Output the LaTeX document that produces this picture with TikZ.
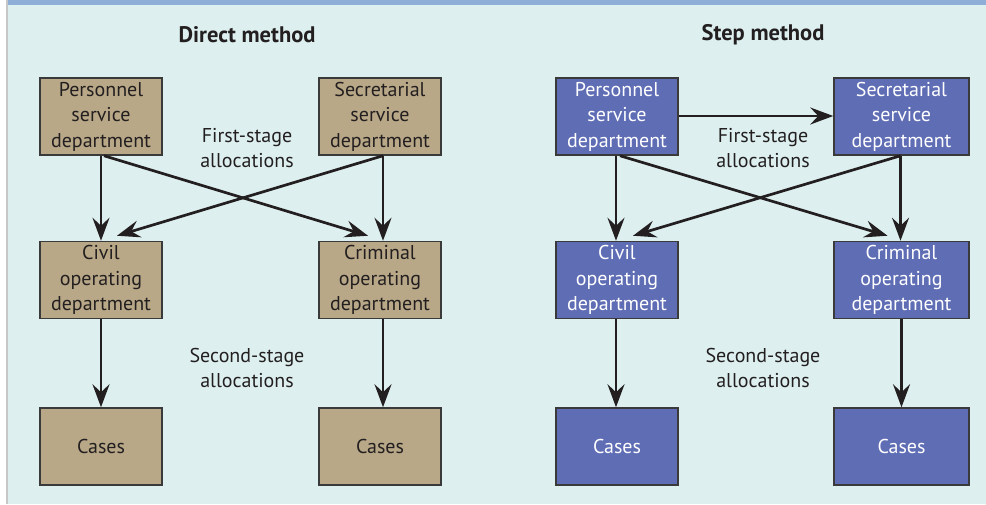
\documentclass[tikz,border=0pt]{standalone}
\usepackage{fontspec}
\setmainfont{PT Sans}
\usetikzlibrary{arrows.meta}

\definecolor{bgcyan}{HTML}{DDF0EF}
\definecolor{topbar}{HTML}{8EAED8}
\definecolor{tanbox}{HTML}{B8A887}
\definecolor{bluebox}{HTML}{5F6DB5}
\definecolor{inkdark}{HTML}{231F20}
\definecolor{edgegray}{HTML}{3A3A3A}

\begin{document}
\begin{tikzpicture}[x=1pt,y=-1pt,font=\fontsize{20}{25.5}\selectfont]
\useasboundingbox (0,0) rectangle (986,504);

%the panel behind everything
\fill[white] (0,0) rectangle (986,504);
\fill[bgcyan] (7,0) rectangle (986,504);
\fill[topbar] (7,0) rectangle (986,5);
\fill[black!22] (5.5,0) rectangle (7.5,504);

%headings and stage labels
\begin{scope}[every node/.style={text=inkdark,align=center}]
    \node[font=\fontsize{22.5}{27}\selectfont\bfseries] (dTitle) at (247,35) {Direct method};
    \node[font=\fontsize{22.5}{27}\selectfont\bfseries] (sTitle) at (763,35) {Step method};
    \node (dFirst) at (247,148) {First-stage\\allocations};
    \node (sFirst) at (763,148) {First-stage\\allocations};
    \node (dSecond) at (247,368) {Second-stage\\allocations};
    \node (sSecond) at (763,368) {Second-stage\\allocations};
\end{scope}

%direct method boxes (tan)
\begin{scope}[every node/.style={rectangle,draw=edgegray,line width=1.5pt,fill=tanbox,
              text=inkdark,align=center,inner sep=0pt,minimum width=122pt,minimum height=77pt}]
    \node (dP) at (101,116.5) {Personnel\\service\\department};
    \node (dS) at (380,116.5) {Secretarial\\service\\department};
    \node (dC) at (101,280) {Civil\\operating\\department};
    \node (dK) at (380,280) {Criminal\\operating\\department};
    \node (dCc) at (101,446.5) {Cases};
    \node (dKc) at (380,446.5) {Cases};
\end{scope}

%step method boxes (blue), the right column is a bit wider
\begin{scope}[every node/.style={rectangle,draw=edgegray,line width=1.5pt,fill=bluebox,
              text=white,align=center,inner sep=0pt,minimum width=122pt,minimum height=77pt}]
    \node (sP) at (617,116.5) {Personnel\\service\\department};
    \node[minimum width=135pt] (sS) at (901.5,116.5) {Secretarial\\service\\department};
    \node (sC) at (617,280) {Civil\\operating\\department};
    \node[minimum width=135pt] (sK) at (901.5,280) {Criminal\\operating\\department};
    \node (sCc) at (617,446.5) {Cases};
    \node[minimum width=135pt] (sKc) at (901.5,446.5) {Cases};
\end{scope}

%all the arrows
\begin{scope}[>={Stealth[length=23pt,width=17pt,inset=8pt]},
              every edge/.style={draw=inkdark,line width=2.7pt}]
    %direct method
    \path [->] (dP.south) edge (dC.north);
    \path [->] ([xshift=3pt]dP.south) edge ([xshift=-12pt,yshift=5pt]dK.north);
    \path [->] ([xshift=3pt]dS.south) edge ([xshift=16pt,yshift=5pt]dC.north);
    \path [->] ([xshift=3pt]dS.south) edge ([xshift=3pt]dK.north);
    \path [->] (dC.south) edge (dCc.north);
    \path [->] ([xshift=3pt]dK.south) edge ([xshift=3pt]dKc.north);
    %step method
    \path [->] ([yshift=0.5pt]sP.east) edge ([yshift=0.5pt]sS.west);
    \path [->] ([xshift=-1pt]sP.south) edge ([xshift=-1pt]sC.north);
    \path [->] ([xshift=3pt]sP.south) edge ([xshift=-14pt,yshift=5pt]sK.north);
    \path [->] ([xshift=-1pt]sS.south) edge ([xshift=16pt,yshift=5pt]sC.north);
    \path [->] ([xshift=-1pt]sS.south) edge ([xshift=-1pt]sK.north);
    \path [->] ([xshift=-1pt]sC.south) edge ([xshift=-1pt]sCc.north);
    \path [->] (sK.south) edge (sKc.north);
\end{scope}
\end{tikzpicture}
\end{document}
